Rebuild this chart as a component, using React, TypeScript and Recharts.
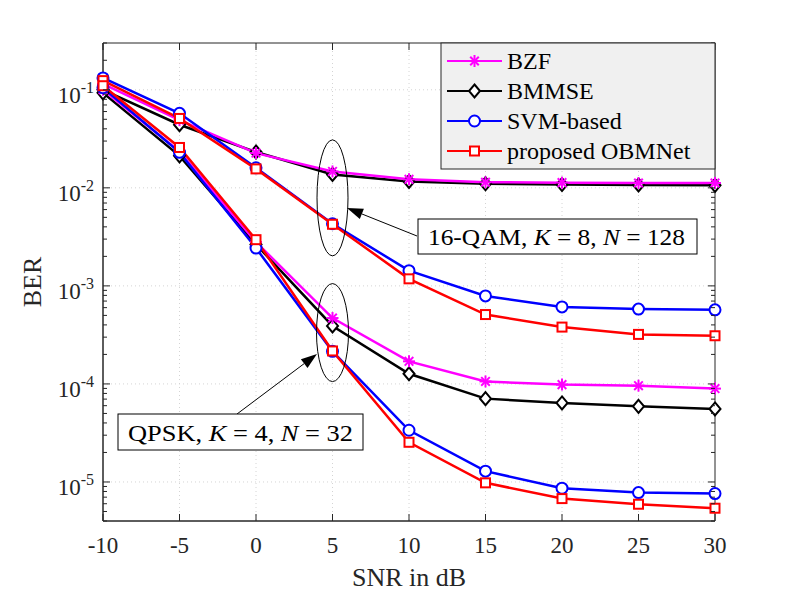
import React from "react";
import {
  CartesianGrid,
  Line,
  LineChart,
  ReferenceArea,
  ReferenceDot,
  XAxis,
  YAxis,
} from "recharts";

// SNR points (dB)
const snr = [-10, -5, 0, 5, 10, 15, 20, 25, 30];

// 16-QAM, K = 8, N = 128
const bzf16 = [0.115, 0.049, 0.0226, 0.0147, 0.0122, 0.0114, 0.0113, 0.0112, 0.0112];
const bmmse16 = [0.1, 0.044, 0.0232, 0.0137, 0.0116, 0.011, 0.0108, 0.0107, 0.0106];
const svm16 = [0.132, 0.0575, 0.016, 0.0043, 0.00143, 0.00079, 0.00061, 0.00058, 0.00057];
const obm16 = [0.124, 0.051, 0.0156, 0.00425, 0.00118, 0.00051, 0.00038, 0.00032, 0.00031];

// QPSK, K = 4, N = 32
const bzfQ = [0.1, 0.0235, 0.0028, 0.00047, 0.00017, 0.000106, 0.0000984, 0.000096, 0.0000896];
const bmmseQ = [0.093, 0.0212, 0.00265, 0.00039, 0.000127, 0.0000708, 0.000064, 0.0000591, 0.0000556];
const svmQ = [0.105, 0.023, 0.00243, 0.000215, 0.0000337, 0.0000129, 0.00000864, 0.0000078, 0.00000762];
const obmQ = [0.11, 0.0258, 0.00296, 0.000217, 0.0000254, 0.0000098, 0.00000677, 0.00000593, 0.0000054];

const methods = ["BZF", "BMMSE", "SVM-based", "proposed OBMNet"];
const colors = ["#ff00ff", "#000000", "#0000ff", "#ff0000"];
const markers = ["star", "diamond", "circle", "square"];

const xTicks = [-10, -5, 0, 5, 10, 15, 20, 25, 30];
const yMajor = [1e-5, 1e-4, 1e-3, 1e-2, 1e-1];
const yDomain = [4e-6, 0.3];
const yTicks: number[] = [];
for (let e = -6; e <= -1; e++) {
  for (let m = 1; m <= 9; m++) {
    const v = m * Math.pow(10, e);
    if (v >= yDomain[0] * 0.999 && v <= yDomain[1] * 1.001) yTicks.push(v);
  }
}

const data = snr.map((s, i) => ({
  snr: s,
  bzf16: bzf16[i],
  bmmse16: bmmse16[i],
  svm16: svm16[i],
  obm16: obm16[i],
  bzfQ: bzfQ[i],
  bmmseQ: bmmseQ[i],
  svmQ: svmQ[i],
  obmQ: obmQ[i],
}));

// drawing order: black under magenta, then blue, then red
const series = [
  { key: "bmmse16", m: 1 },
  { key: "bzf16", m: 0 },
  { key: "svm16", m: 2 },
  { key: "obm16", m: 3 },
  { key: "bmmseQ", m: 1 },
  { key: "bzfQ", m: 0 },
  { key: "svmQ", m: 2 },
  { key: "obmQ", m: 3 },
];

const W = 789;
const H = 592;
const PL = 103;
const PR = 715;
const PT = 43;
const PB = 521;
const AXIS = "#262626";
const FONT = "'Liberation Serif', 'Times New Roman', serif";

function Marker({ kind, color, cx, cy }: { kind: string; color: string; cx: number; cy: number }) {
  if (kind === "star") {
    const r = 6;
    const d = 4.3;
    return (
      <g stroke={color} strokeWidth={2}>
        <line x1={cx - r} x2={cx + r} y1={cy} y2={cy} />
        <line x1={cx} x2={cx} y1={cy - r} y2={cy + r} />
        <line x1={cx - d} x2={cx + d} y1={cy - d} y2={cy + d} />
        <line x1={cx - d} x2={cx + d} y1={cy + d} y2={cy - d} />
      </g>
    );
  }
  if (kind === "diamond") {
    return (
      <polygon
        points={`${cx},${cy - 6.5} ${cx + 5.5},${cy} ${cx},${cy + 6.5} ${cx - 5.5},${cy}`}
        fill="#fff"
        stroke={color}
        strokeWidth={2}
      />
    );
  }
  if (kind === "circle") {
    return <circle cx={cx} cy={cy} r={5.5} fill="#fff" stroke={color} strokeWidth={2} />;
  }
  return <rect x={cx - 4.5} y={cy - 4.5} width={9} height={9} fill="#fff" stroke={color} strokeWidth={2} />;
}

function YTick(props: any) {
  const { y, payload } = props;
  const lg = Math.log10(payload.value);
  const e = Math.round(lg);
  const major = Math.abs(lg - e) < 1e-6;
  const len = major ? 7 : 4;
  return (
    <g>
      <line x1={PL} x2={PL + len} y1={y} y2={y} stroke={AXIS} />
      <line x1={PR} x2={PR - len} y1={y} y2={y} stroke={AXIS} />
      {major && (
        <text x={PL - 9} y={y + 13} textAnchor="end" fontSize={23} fontFamily={FONT} fill="#262626">
          10
          <tspan dy={-10} fontSize={16}>
            {e}
          </tspan>
        </text>
      )}
    </g>
  );
}

function XTick(props: any) {
  const { x, payload } = props;
  return (
    <g>
      <line x1={x} x2={x} y1={PB} y2={PB - 7} stroke={AXIS} />
      <line x1={x} x2={x} y1={PT} y2={PT + 7} stroke={AXIS} />
      <text x={x} y={PB + 32} textAnchor="middle" fontSize={23} fontFamily={FONT} fill="#262626">
        {payload.value}
      </text>
    </g>
  );
}

function Ellipse(rx: number, ry: number) {
  return (p: any) => (
    <ellipse cx={p.cx} cy={p.cy} rx={rx} ry={ry} fill="none" stroke="#000" strokeWidth={1} />
  );
}

function Arrow({ x1, y1, x2, y2 }: { x1: number; y1: number; x2: number; y2: number }) {
  const a = Math.atan2(y2 - y1, x2 - x1);
  const L = 16;
  const hw = 5.5;
  const bx = x2 - L * Math.cos(a);
  const by = y2 - L * Math.sin(a);
  const nx = -Math.sin(a) * hw;
  const ny = Math.cos(a) * hw;
  return (
    <g>
      <line x1={x1} y1={y1} x2={bx} y2={by} stroke="#000" strokeWidth={1} />
      <polygon points={`${x2},${y2} ${bx + nx},${by + ny} ${bx - nx},${by - ny}`} fill="#000" />
    </g>
  );
}

function Overlay() {
  const rows = [61, 91, 121, 151];
  return (
    <svg
      width={W}
      height={H}
      style={{ position: "absolute", left: 0, top: 0, pointerEvents: "none" }}
      fontFamily={FONT}
    >
      {/* legend */}
      <rect x={441} y={PT} width={PR - 441} height={126} fill="#f0f0f0" stroke={AXIS} strokeWidth={1} />
      {methods.map((m, i) => (
        <g key={m}>
          <line x1={447} x2={502} y1={rows[i]} y2={rows[i]} stroke={colors[i]} strokeWidth={2} />
          <Marker kind={markers[i]} color={colors[i]} cx={474.5} cy={rows[i]} />
          <text x={507} y={rows[i] + 8} fontSize={24} fill="#000">
            {m}
          </text>
        </g>
      ))}

      {/* annotations */}
      <Arrow x1={417} y1={236} x2={347} y2={208} />
      <rect x={418} y={219} width={279} height={35} fill="#fff" stroke="#000" strokeWidth={1} />
      <text x={428} y={245} fontSize={24} fill="#000" textLength={257} lengthAdjust="spacingAndGlyphs">
        16-QAM, <tspan fontStyle="italic">K</tspan> = 8, <tspan fontStyle="italic">N</tspan> = 128
      </text>

      <Arrow x1={237} y1={414} x2={317} y2={354} />
      <rect x={118} y={414} width={245} height={36} fill="#fff" stroke="#000" strokeWidth={1} />
      <text x={128} y={441} fontSize={24} fill="#000" textLength={225} lengthAdjust="spacingAndGlyphs">
        QPSK, <tspan fontStyle="italic">K</tspan> = 4, <tspan fontStyle="italic">N</tspan> = 32
      </text>
    </svg>
  );
}

export default function App() {
  return (
    <div style={{ position: "absolute", left: 0, top: 0, width: W, height: H, background: "#fff" }}>
      <LineChart
        width={W}
        height={H}
        data={data}
        margin={{ top: PT, right: W - PR, bottom: 31, left: 43 }}
      >
        <CartesianGrid
          stroke="#d4d4d4"
          strokeDasharray="1 3"
          horizontalValues={yMajor}
          verticalValues={xTicks.slice(1, -1)}
        />
        <XAxis
          dataKey="snr"
          type="number"
          domain={[-10, 30]}
          ticks={xTicks}
          interval={0}
          height={40}
          tickSize={0}
          tickMargin={0}
          tickLine={false}
          axisLine={{ stroke: AXIS }}
          tick={<XTick />}
        />
        <YAxis
          type="number"
          scale="log"
          domain={yDomain}
          allowDataOverflow
          ticks={yTicks}
          interval={0}
          width={60}
          tickSize={0}
          tickMargin={0}
          tickLine={false}
          axisLine={{ stroke: AXIS }}
          tick={<YTick />}
        />
        <ReferenceArea
          x1={-10}
          x2={30}
          y1={yDomain[0]}
          y2={yDomain[1]}
          fill="none"
          stroke={AXIS}
          strokeWidth={1}
        />
        {series.map((s) => (
          <Line
            key={s.key}
            dataKey={s.key}
            stroke={colors[s.m]}
            strokeWidth={2.5}
            isAnimationActive={false}
            dot={(p: any) => (
              <g key={`${s.key}-${p.index}`}>
                <Marker kind={markers[s.m]} color={colors[s.m]} cx={p.cx} cy={p.cy} />
              </g>
            )}
            activeDot={false}
          />
        ))}
        <ReferenceDot x={5} y={0.0079} r={0} shape={Ellipse(15.5, 58)} />
        <ReferenceDot x={5} y={0.000334} r={0} shape={Ellipse(16, 49)} />
      </LineChart>
      <Overlay />
      <svg width={W} height={H} style={{ position: "absolute", left: 0, top: 0, pointerEvents: "none" }}>
        <text
          x={0}
          y={0}
          transform={`translate(${41}, ${(PT + PB) / 2}) rotate(-90)`}
          textAnchor="middle"
          fontSize={26}
          fontFamily={FONT}
          fill="#262626"
        >
          BER
        </text>
        <text x={(PL + PR) / 2} y={586} textAnchor="middle" fontSize={26} fontFamily={FONT} fill="#262626">
          SNR in dB
        </text>
      </svg>
    </div>
  );
}
